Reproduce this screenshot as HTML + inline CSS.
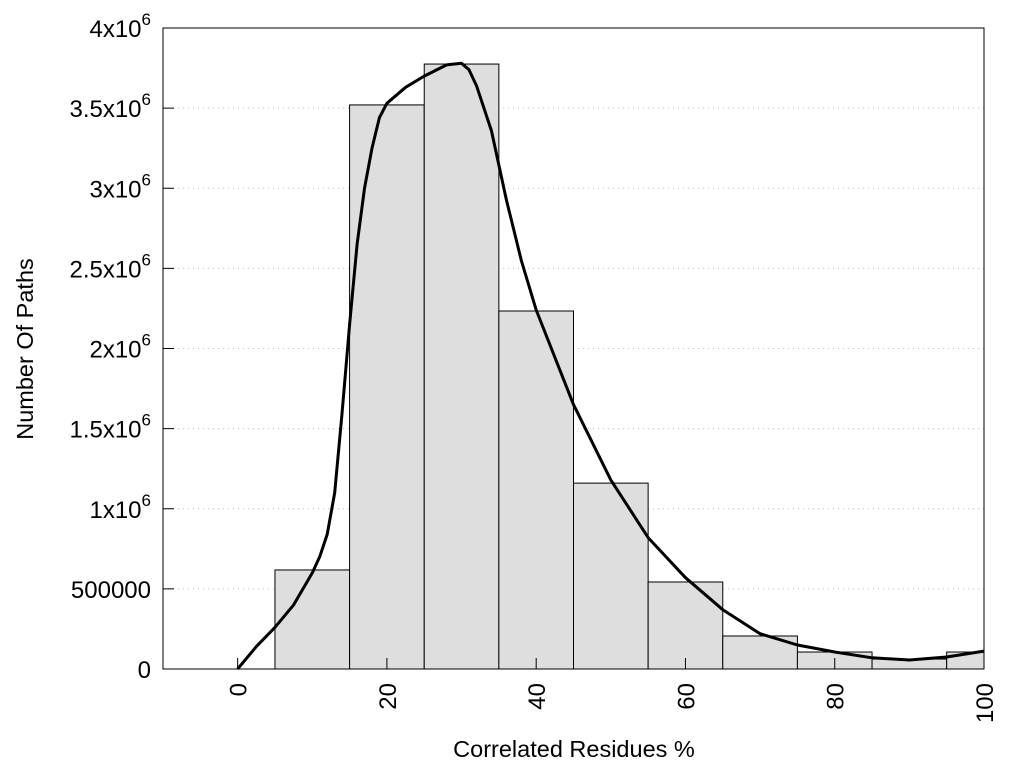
<!DOCTYPE html>
<html><head><meta charset="utf-8"><style>
body{margin:0;background:#fff;}
svg text{font-family:"Liberation Sans",sans-serif;fill:#000;}
</style></head><body>
<svg id="chart" width="1024" height="768" xmlns="http://www.w3.org/2000/svg">
<g id="grid"></g>
<g id="bars"></g>
<path id="curve" fill="none" stroke="#000" stroke-width="3" stroke-linejoin="round"/>
<rect x="163" y="28" width="821" height="641" fill="none" stroke="#000" stroke-width="1"/>
<g id="axes"></g>
<text x="574" y="757" font-size="23.5" text-anchor="middle">Correlated Residues %</text>
<text transform="translate(33,349) rotate(-90)" font-size="23.5" text-anchor="middle">Number Of Paths</text>
</svg>
<script>
const binCenters=[10,20,30,40,50,60,70,80,90,100];
const binValues=[618000,3520000,3775000,2234000,1160000,543000,206000,106000,62000,106000];
const curveX=[0,2.5,5,7.5,10,11,12,13,14,15,16,17,18,19,20,22.5,25,28,30,31,32,34,36,38,40,45,50,55,60,65,70,75,80,85,90,95,100];
const curveY=[0,0.14e6,0.26e6,0.4e6,0.6e6,0.7e6,0.84e6,1.1e6,1.6e6,2.15e6,2.65e6,3.0e6,3.25e6,3.44e6,3.53e6,3.63e6,3.7e6,3.77e6,3.78e6,3.74e6,3.64e6,3.36e6,2.93e6,2.55e6,2.24e6,1.65e6,1.18e6,0.82e6,0.57e6,0.37e6,0.22e6,0.15e6,0.106e6,0.07e6,0.056e6,0.075e6,0.112e6];
const yTicks=[0,500000,1e6,1.5e6,2e6,2.5e6,3e6,3.5e6,4e6];
const yTickLabels=["0","500000","1x10^6","1.5x10^6","2x10^6","2.5x10^6","3x10^6","3.5x10^6","4x10^6"];
const xTicks=[0,20,40,60,80,100];
const X0=163,X1=984,Y0=669,Y1=28,xmin=-10,xmax=100,ymax=4e6;
const sx=v=>X0+(v-xmin)/(xmax-xmin)*(X1-X0);
const sy=v=>Y0-v/ymax*(Y0-Y1);
const NS="http://www.w3.org/2000/svg";
function mk(tag,attrs,parent){const e=document.createElementNS(NS,tag);for(const k in attrs)e.setAttribute(k,attrs[k]);parent.appendChild(e);return e;}
const grid=document.getElementById('grid'),bars=document.getElementById('bars'),axes=document.getElementById('axes');
yTicks.forEach((t,i)=>{
  const y=sy(t);
  if(t>0&&t<ymax){const g=mk('line',{x1:X0,x2:X1,y1:y,y2:y,stroke:'#bbb','stroke-dasharray':'1,4'},grid);
  
  }
  const tk=mk('line',{x1:X0,x2:X0+11,y1:y,y2:y,stroke:'#000'},axes);
  
  
  const lab=yTickLabels[i];const tx=mk('text',{x:151,y:y+9,'font-size':24,'text-anchor':'end'},axes);
  
  
  if(lab.includes('^')){const [a,b]=lab.split('^');
    const s1=mk('tspan',{},tx);s1.textContent=a;
    const s2=mk('tspan',{dy:-12,'font-size':17},tx);s2.textContent=b;}
  else tx.textContent=lab;
});
binCenters.forEach((c,i)=>{
  const l=Math.max(sx(c-5),X0),r=Math.min(sx(c+5),X1);
  const b=mk('rect',{x:l,y:sy(binValues[i]),width:r-l,height:Y0-sy(binValues[i]),fill:'#dedede',stroke:'#000','stroke-width':1},bars);
  
  
});
xTicks.forEach(t=>{
  const x=sx(t);
  const tk=mk('line',{x1:x,x2:x,y1:Y0,y2:Y0-11,stroke:'#000'},axes);
  
  
  const tx=mk('text',{transform:`translate(${x+9},683) rotate(-90)`,'font-size':24,'text-anchor':'end'},axes);
  
  
  tx.textContent=String(t);
});
let d='';
curveX.forEach((v,i)=>{d+=(i?'L':'M')+sx(v).toFixed(1)+','+sy(curveY[i]).toFixed(1);});
document.getElementById('curve').setAttribute('d',d);
</script>
</body></html>
